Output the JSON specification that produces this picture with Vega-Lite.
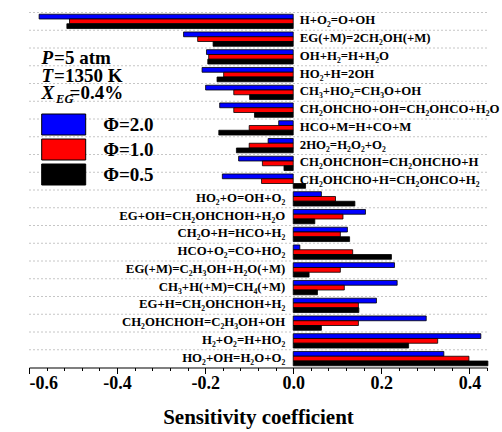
{
  "$schema": "https://vega.github.io/schema/vega-lite/v6.json",
  "width": 458,
  "height": 355,
  "autosize": {"type": "none"},
  "padding": {"left": 29, "top": 12.5, "right": 15, "bottom": 64.5},
  "background": "white",
  "config": {
    "view": {"stroke": null},
    "font": "Liberation Serif",
    "locale": {"number": {"decimal": ".", "thousands": ",", "grouping": [3], "currency": ["", ""], "minus": "-"}}
  },
  "datasets": {
    "sens": [
      {"reaction": "H+O₂=O+OH", "phi": "Φ=2.0", "value": -0.577},
      {"reaction": "H+O₂=O+OH", "phi": "Φ=1.0", "value": -0.508},
      {"reaction": "H+O₂=O+OH", "phi": "Φ=0.5", "value": -0.514},
      {"reaction": "EG(+M)=2CH₂OH(+M)", "phi": "Φ=2.0", "value": -0.249},
      {"reaction": "EG(+M)=2CH₂OH(+M)", "phi": "Φ=1.0", "value": -0.217},
      {"reaction": "EG(+M)=2CH₂OH(+M)", "phi": "Φ=0.5", "value": -0.182},
      {"reaction": "OH+H₂=H+H₂O", "phi": "Φ=2.0", "value": -0.197},
      {"reaction": "OH+H₂=H+H₂O", "phi": "Φ=1.0", "value": -0.192},
      {"reaction": "OH+H₂=H+H₂O", "phi": "Φ=0.5", "value": -0.194},
      {"reaction": "HO₂+H=2OH", "phi": "Φ=2.0", "value": -0.207},
      {"reaction": "HO₂+H=2OH", "phi": "Φ=1.0", "value": -0.158},
      {"reaction": "HO₂+H=2OH", "phi": "Φ=0.5", "value": -0.173},
      {"reaction": "CH₃+HO₂=CH₃O+OH", "phi": "Φ=2.0", "value": -0.199},
      {"reaction": "CH₃+HO₂=CH₃O+OH", "phi": "Φ=1.0", "value": -0.135},
      {"reaction": "CH₃+HO₂=CH₃O+OH", "phi": "Φ=0.5", "value": -0.099},
      {"reaction": "CH₂OHCHO+OH=CH₂OHCO+H₂O", "phi": "Φ=2.0", "value": -0.167},
      {"reaction": "CH₂OHCHO+OH=CH₂OHCO+H₂O", "phi": "Φ=1.0", "value": -0.135},
      {"reaction": "CH₂OHCHO+OH=CH₂OHCO+H₂O", "phi": "Φ=0.5", "value": -0.088},
      {"reaction": "HCO+M=H+CO+M", "phi": "Φ=2.0", "value": -0.033},
      {"reaction": "HCO+M=H+CO+M", "phi": "Φ=1.0", "value": -0.100},
      {"reaction": "HCO+M=H+CO+M", "phi": "Φ=0.5", "value": -0.169},
      {"reaction": "2HO₂=H₂O₂+O₂", "phi": "Φ=2.0", "value": -0.057},
      {"reaction": "2HO₂=H₂O₂+O₂", "phi": "Φ=1.0", "value": -0.100},
      {"reaction": "2HO₂=H₂O₂+O₂", "phi": "Φ=0.5", "value": -0.129},
      {"reaction": "CH₂OHCHOH=CH₂OHCHO+H", "phi": "Φ=2.0", "value": -0.124},
      {"reaction": "CH₂OHCHOH=CH₂OHCHO+H", "phi": "Φ=1.0", "value": -0.070},
      {"reaction": "CH₂OHCHOH=CH₂OHCHO+H", "phi": "Φ=0.5", "value": -0.021},
      {"reaction": "CH₂OHCHO+H=CH₂OHCO+H₂", "phi": "Φ=2.0", "value": -0.161},
      {"reaction": "CH₂OHCHO+H=CH₂OHCO+H₂", "phi": "Φ=1.0", "value": -0.072},
      {"reaction": "CH₂OHCHO+H=CH₂OHCO+H₂", "phi": "Φ=0.5", "value": 0.028},
      {"reaction": "HO₂+O=OH+O₂", "phi": "Φ=2.0", "value": 0.064},
      {"reaction": "HO₂+O=OH+O₂", "phi": "Φ=1.0", "value": 0.096},
      {"reaction": "HO₂+O=OH+O₂", "phi": "Φ=0.5", "value": 0.140},
      {"reaction": "EG+OH=CH₂OHCHOH+H₂O", "phi": "Φ=2.0", "value": 0.164},
      {"reaction": "EG+OH=CH₂OHCHOH+H₂O", "phi": "Φ=1.0", "value": 0.113},
      {"reaction": "EG+OH=CH₂OHCHOH+H₂O", "phi": "Φ=0.5", "value": 0.049},
      {"reaction": "CH₂O+H=HCO+H₂", "phi": "Φ=2.0", "value": 0.123},
      {"reaction": "CH₂O+H=HCO+H₂", "phi": "Φ=1.0", "value": 0.107},
      {"reaction": "CH₂O+H=HCO+H₂", "phi": "Φ=0.5", "value": 0.128},
      {"reaction": "HCO+O₂=CO+HO₂", "phi": "Φ=2.0", "value": 0.015},
      {"reaction": "HCO+O₂=CO+HO₂", "phi": "Φ=1.0", "value": 0.135},
      {"reaction": "HCO+O₂=CO+HO₂", "phi": "Φ=0.5", "value": 0.223},
      {"reaction": "EG(+M)=C₂H₃OH+H₂O(+M)", "phi": "Φ=2.0", "value": 0.230},
      {"reaction": "EG(+M)=C₂H₃OH+H₂O(+M)", "phi": "Φ=1.0", "value": 0.107},
      {"reaction": "EG(+M)=C₂H₃OH+H₂O(+M)", "phi": "Φ=0.5", "value": 0.036},
      {"reaction": "CH₃+H(+M)=CH₄(+M)", "phi": "Φ=2.0", "value": 0.236},
      {"reaction": "CH₃+H(+M)=CH₄(+M)", "phi": "Φ=1.0", "value": 0.116},
      {"reaction": "CH₃+H(+M)=CH₄(+M)", "phi": "Φ=0.5", "value": 0.055},
      {"reaction": "EG+H=CH₂OHCHOH+H₂", "phi": "Φ=2.0", "value": 0.189},
      {"reaction": "EG+H=CH₂OHCHOH+H₂", "phi": "Φ=1.0", "value": 0.148},
      {"reaction": "EG+H=CH₂OHCHOH+H₂", "phi": "Φ=0.5", "value": 0.149},
      {"reaction": "CH₂OHCHOH=C₂H₃OH+OH", "phi": "Φ=2.0", "value": 0.302},
      {"reaction": "CH₂OHCHOH=C₂H₃OH+OH", "phi": "Φ=1.0", "value": 0.148},
      {"reaction": "CH₂OHCHOH=C₂H₃OH+OH", "phi": "Φ=0.5", "value": 0.064},
      {"reaction": "H₂+O₂=H+HO₂", "phi": "Φ=2.0", "value": 0.426},
      {"reaction": "H₂+O₂=H+HO₂", "phi": "Φ=1.0", "value": 0.328},
      {"reaction": "H₂+O₂=H+HO₂", "phi": "Φ=0.5", "value": 0.262},
      {"reaction": "HO₂+OH=H₂O+O₂", "phi": "Φ=2.0", "value": 0.342},
      {"reaction": "HO₂+OH=H₂O+O₂", "phi": "Φ=1.0", "value": 0.399},
      {"reaction": "HO₂+OH=H₂O+O₂", "phi": "Φ=0.5", "value": 0.442}
    ],
    "conditions": [
      {"reaction": "OH+H₂=H+H₂O", "sym": "P", "rest": "=5 atm"},
      {"reaction": "HO₂+H=2OH", "sym": "T", "rest": "=1350 K"},
      {"reaction": "CH₃+HO₂=CH₃O+OH", "sym": "X", "sub": "EG", "rest": "=0.4%"}
    ]
  },
  "data": {"name": "sens"},
  "resolve": {"axis": {"x": "independent"}},
  "layer": [
    {
      "transform": [{"filter": "datum.phi === 'Φ=2.0'"}],
      "mark": {"type": "rule", "color": "#b8b8b8", "strokeDash": [2, 2], "strokeWidth": 0.8},
      "encoding": {
        "y": {"field": "reaction", "type": "nominal", "sort": null, "bandPosition": 0, "axis": null}
      }
    },
    {
      "mark": {"type": "bar", "stroke": "black", "strokeWidth": 0.8},
      "encoding": {
        "y": {
          "field": "reaction",
          "type": "nominal",
          "title": null,
          "scale": {
            "domain": [
              "H+O₂=O+OH", "EG(+M)=2CH₂OH(+M)", "OH+H₂=H+H₂O", "HO₂+H=2OH",
              "CH₃+HO₂=CH₃O+OH", "CH₂OHCHO+OH=CH₂OHCO+H₂O", "HCO+M=H+CO+M",
              "2HO₂=H₂O₂+O₂", "CH₂OHCHOH=CH₂OHCHO+H", "CH₂OHCHO+H=CH₂OHCO+H₂",
              "HO₂+O=OH+O₂", "EG+OH=CH₂OHCHOH+H₂O", "CH₂O+H=HCO+H₂", "HCO+O₂=CO+HO₂",
              "EG(+M)=C₂H₃OH+H₂O(+M)", "CH₃+H(+M)=CH₄(+M)", "EG+H=CH₂OHCHOH+H₂",
              "CH₂OHCHOH=C₂H₃OH+OH", "H₂+O₂=H+HO₂", "HO₂+OH=H₂O+O₂"
            ],
            "paddingInner": 0,
            "paddingOuter": 0
          },
          "axis": {
            "offset": -264,
            "labels": false,
            "grid": false,
            "bandPosition": 0,
            "tickSize": -4,
            "tickColor": "black",
            "tickWidth": 1,
            "domainColor": "black",
            "domainWidth": 1.2
          }
        },
        "yOffset": {
          "field": "phi",
          "sort": ["Φ=2.0", "Φ=1.0", "Φ=0.5"],
          "scale": {"paddingInner": 0, "paddingOuter": 0.36}
        },
        "x": {
          "field": "value",
          "type": "quantitative",
          "title": "Sensitivity coefficient",
          "scale": {"domain": [-0.6, 0.44], "nice": false},
          "axis": {
            "orient": "bottom",
            "values": [-0.6, -0.4, -0.2, 0, 0.2, 0.4],
            "format": ".1f",
            "tickSize": 6,
            "labelFont": "Liberation Serif",
            "labelFontSize": 18,
            "labelFontWeight": "bold",
            "labelColor": "black",
            "labelPadding": 1,
            "grid": false,
            "domainColor": "black",
            "domainWidth": 1.2,
            "tickColor": "black",
            "tickWidth": 1,
            "titleFont": "Liberation Serif",
            "titleFontSize": 21,
            "titleFontWeight": "bold",
            "titleColor": "black",
            "titlePadding": 14
          }
        },
        "fill": {
          "field": "phi",
          "type": "nominal",
          "scale": {"domain": ["Φ=2.0", "Φ=1.0", "Φ=0.5"], "range": ["#0000ff", "#ff0000", "#000000"]},
          "legend": {
            "title": null,
            "orient": "none",
            "legendX": 12.7,
            "legendY": 101.5,
            "padding": 0,
            "rowPadding": 0,
            "symbolType": "M-2.2,-1.05H2.2V1.05H-2.2Z",
            "symbolSize": 400,
            "symbolStrokeColor": "black",
            "symbolStrokeWidth": 1,
            "symbolOpacity": 1,
            "symbolOffset": 11.5,
            "labelOffset": 29,
            "labelFont": "Liberation Serif",
            "labelFontSize": 19,
            "labelFontWeight": "bold",
            "labelColor": "black"
          }
        }
      }
    },
    {
      "transform": [{"filter": "datum.phi === 'Φ=2.0' && datum.value < 0"}],
      "mark": {"type": "text", "align": "left", "baseline": "middle", "dx": 6.5, "dy": -1, "font": "Liberation Serif", "fontSize": 12.8, "fontWeight": "bold", "color": "black"},
      "encoding": {
        "y": {"field": "reaction", "type": "nominal", "axis": null},
        "x": {
          "datum": 0,
          "type": "quantitative",
          "axis": {
            "orient": "bottom",
            "values": [-0.56, -0.52, -0.48, -0.44, -0.36, -0.32, -0.28, -0.24, -0.16, -0.12, -0.08, -0.04, 0.04, 0.08, 0.12, 0.16, 0.24, 0.28, 0.32, 0.36, 0.44],
            "labels": false,
            "domain": false,
            "grid": false,
            "tickSize": 3,
            "tickColor": "black",
            "tickWidth": 1,
            "title": null
          }
        },
        "text": {"field": "reaction"}
      }
    },
    {
      "transform": [{"filter": "datum.phi === 'Φ=2.0' && datum.value > 0"}],
      "mark": {"type": "text", "align": "right", "baseline": "middle", "dx": -8, "dy": -1, "font": "Liberation Serif", "fontSize": 12.8, "fontWeight": "bold", "color": "black"},
      "encoding": {
        "y": {"field": "reaction", "type": "nominal", "axis": null},
        "x": {"datum": 0, "type": "quantitative", "axis": null},
        "text": {"field": "reaction"}
      }
    },
    {
      "data": {"name": "conditions"},
      "mark": {"type": "text", "align": "left", "baseline": "middle", "dy": 1, "font": "Liberation Serif", "fontSize": 19, "fontWeight": "bold", "fontStyle": "italic", "color": "black"},
      "encoding": {
        "x": {"datum": -0.5714, "type": "quantitative", "axis": null},
        "y": {"field": "reaction", "type": "nominal", "axis": null},
        "text": {"field": "sym"}
      }
    },
    {
      "data": {"name": "conditions"},
      "transform": [{"filter": "datum.sym !== 'X'"}],
      "mark": {"type": "text", "align": "left", "baseline": "middle", "dx": 12.5, "dy": 1, "font": "Liberation Serif", "fontSize": 19, "fontWeight": "bold", "color": "black"},
      "encoding": {
        "x": {"datum": -0.5714, "type": "quantitative", "axis": null},
        "y": {"field": "reaction", "type": "nominal", "axis": null},
        "text": {"field": "rest"}
      }
    },
    {
      "data": {"name": "conditions"},
      "transform": [{"filter": "datum.sym === 'X'"}],
      "mark": {"type": "text", "align": "left", "baseline": "middle", "dx": 14.5, "dy": 7, "font": "Liberation Serif", "fontSize": 12.5, "fontWeight": "bold", "fontStyle": "italic", "color": "black"},
      "encoding": {
        "x": {"datum": -0.5714, "type": "quantitative", "axis": null},
        "y": {"field": "reaction", "type": "nominal", "axis": null},
        "text": {"field": "sub"}
      }
    },
    {
      "data": {"name": "conditions"},
      "transform": [{"filter": "datum.sym === 'X'"}],
      "mark": {"type": "text", "align": "left", "baseline": "middle", "dx": 28, "dy": 1, "font": "Liberation Serif", "fontSize": 19, "fontWeight": "bold", "color": "black"},
      "encoding": {
        "x": {"datum": -0.5714, "type": "quantitative", "axis": null},
        "y": {"field": "reaction", "type": "nominal", "axis": null},
        "text": {"field": "rest"}
      }
    }
  ]
}
